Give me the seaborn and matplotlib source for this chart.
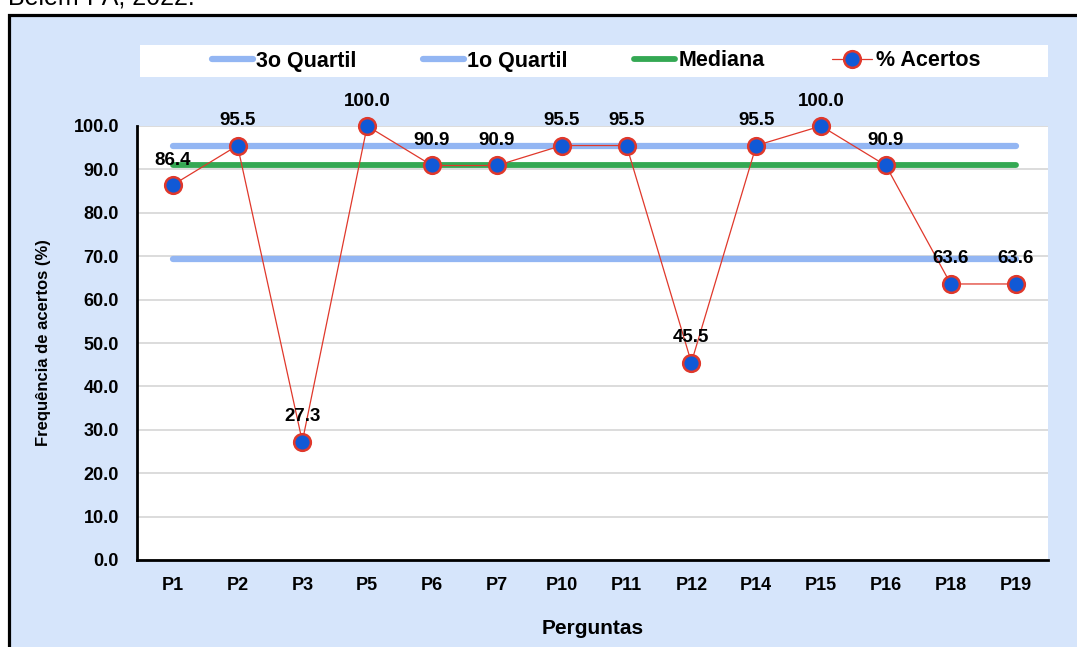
import numpy as np
import pandas as pd
import matplotlib
matplotlib.use("Agg")
import matplotlib.pyplot as plt
from matplotlib.patches import Rectangle
from matplotlib.lines import Line2D
import seaborn as sns

sns.set_style("white")
plt.rcParams["font.family"] = ["Liberation Sans", "DejaVu Sans"]
plt.rcParams["text.color"] = "black"
plt.rcParams["axes.labelcolor"] = "black"
plt.rcParams["xtick.color"] = "black"
plt.rcParams["ytick.color"] = "black"

# ------------------------------------------------------------------
# data
# ------------------------------------------------------------------
perguntas = ["P1", "P2", "P3", "P5", "P6", "P7", "P10", "P11",
             "P12", "P14", "P15", "P16", "P18", "P19"]
acertos = [86.4, 95.5, 27.3, 100.0, 90.9, 90.9, 95.5, 95.5,
           45.5, 95.5, 100.0, 90.9, 63.6, 63.6]
q3 = 95.5
q1 = 69.3
mediana = 90.9

df = pd.DataFrame({"pergunta": perguntas, "acertos": acertos})
df["q3"] = q3
df["q1"] = q1
df["mediana"] = mediana

W, H = 1077, 647
bg_blue = "#d6e5fb"
quart_blue = "#93b6f3"
green = "#34a853"
dot_blue = "#1159d6"
red = "#e0382b"

fig = plt.figure(figsize=(W / 100, H / 100), dpi=100)
fig.patch.set_facecolor("white")

# frame with light blue fill
fig.patches.append(Rectangle((8.5 / W, -0.1), 1.2, 1 - 14.5 / H + 0.1,
                             transform=fig.transFigure, facecolor=bg_blue,
                             edgecolor="black", lw=2.3, zorder=-3))
fig.text(8 / W, 1 - 4 / H, "Belém-PA, 2022.", fontsize=18, va="baseline",
         ha="left", color="black")

# legend background strip
fig.patches.append(Rectangle((140 / W, 1 - 77 / H), 908 / W, 32 / H,
                             transform=fig.transFigure, facecolor="white",
                             edgecolor="none", zorder=-2))

ax = fig.add_axes([137 / W, 1 - 560 / H, 911 / W, 434 / H])
ax.set_facecolor("white")

sns.lineplot(data=df, x="pergunta", y="q3", ax=ax, color=quart_blue, lw=4.5,
             solid_capstyle="round", zorder=2)
sns.lineplot(data=df, x="pergunta", y="q1", ax=ax, color=quart_blue, lw=4.5,
             solid_capstyle="round", zorder=2)
sns.lineplot(data=df, x="pergunta", y="mediana", ax=ax, color=green, lw=4.2,
             solid_capstyle="round", zorder=3)
sns.lineplot(data=df, x="pergunta", y="acertos", ax=ax, color=red, lw=0.9,
             marker="o", markersize=12, markerfacecolor=dot_blue,
             markeredgecolor=red, markeredgewidth=1.8, sort=False, zorder=4,
             clip_on=False)

for i, v in enumerate(acertos):
    ax.annotate(f"{v:.1f}", (i, v), xytext=(0, 18), textcoords="offset points",
                ha="center", va="center", fontsize=13.5, fontweight="bold",
                annotation_clip=False, zorder=5)

ax.set_ylim(0, 100)
ax.set_xlim(-0.55, 13.5)
ax.set_yticks(np.arange(0, 101, 10))
ax.yaxis.set_major_formatter(matplotlib.ticker.FormatStrFormatter("%.1f"))
ax.grid(axis="y", color="#d9d9d9", lw=1.3)
ax.grid(axis="x", visible=False)
ax.set_axisbelow(True)
ax.tick_params(axis="y", length=0, pad=13, labelsize=13)
ax.tick_params(axis="x", length=0, pad=12, labelsize=13)
for lab in ax.get_xticklabels() + ax.get_yticklabels():
    lab.set_fontweight("bold")

for s in ["top", "right"]:
    ax.spines[s].set_visible(False)
for s in ["left", "bottom"]:
    ax.spines[s].set_color("black")
    ax.spines[s].set_linewidth(2)

ax.set_xlabel("Perguntas", fontsize=15, fontweight="bold", labelpad=18)
ax.set_ylabel("Frequência de acertos (%)", fontsize=12, fontweight="bold",
              labelpad=16)

handles = [
    Line2D([], [], color=quart_blue, lw=4.5, solid_capstyle="round"),
    Line2D([], [], color=quart_blue, lw=4.5, solid_capstyle="round"),
    Line2D([], [], color=green, lw=4.2, solid_capstyle="round"),
    Line2D([], [], color=red, lw=0.9, marker="o", markersize=12,
           markerfacecolor=dot_blue, markeredgecolor=red, markeredgewidth=1.8),
]
labels = ["3o Quartil", "1o Quartil", "Mediana", "% Acertos"]
leg = fig.legend(handles, labels, loc="center", ncol=4,
                 bbox_to_anchor=(596 / W, 1 - 61 / H), frameon=False,
                 handlelength=1.9, handletextpad=0.15, columnspacing=3.1,
                 prop={"weight": "bold", "size": 15.5})

fig.savefig("out.png", dpi=100, facecolor=fig.get_facecolor())
